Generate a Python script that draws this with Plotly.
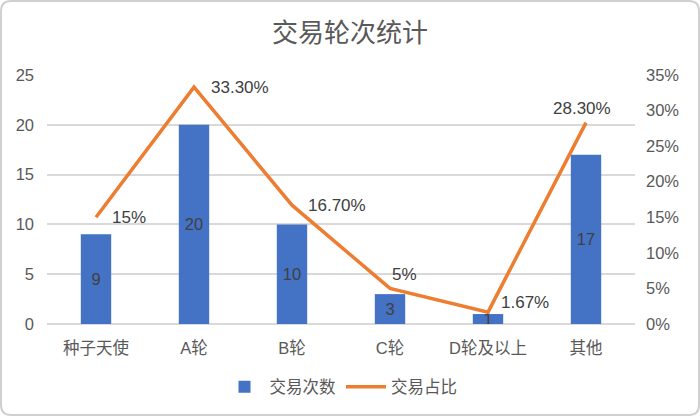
import plotly.graph_objects as go

rounds = ["种子天使", "A轮", "B轮", "C轮", "D轮及以上", "其他"]
counts = [9, 20, 10, 3, 1, 17]
shares = [0.15, 0.333, 0.167, 0.05, 0.0167, 0.283]
share_labels = ["15%", "33.30%", "16.70%", "5%", "1.67%", "28.30%"]

BLUE = "#4472C4"
ORANGE = "#ED7D31"
TXT = "#595959"
FONT = "Liberation Sans, Noto Sans CJK SC, sans-serif"

W, H = 700, 416
L, R, T, B = 47, 65, 75, 92
pw, ph = W - L - R, H - T - B

fig = go.Figure()
fig.add_trace(go.Bar(
    x=rounds, y=counts, name="交易次数",
    marker=dict(color=BLUE, line=dict(width=0)),
    width=0.31,
    text=[str(c) for c in counts],
    textposition="inside", insidetextanchor="middle",
    constraintext="none", textangle=0,
    textfont=dict(color="#404040", size=16.5),
))
fig.add_trace(go.Scatter(
    x=rounds, y=shares, name="交易占比", yaxis="y2",
    mode="lines", line=dict(color=ORANGE, width=3.5),
))

# label offsets for the share line (pixels)
offsets = [(14, 0, "left"), (15, 0, "left"), (14, 0, "left"),
           (0, 14, "left"), (11, 10, "left"), (-4, 14, "center")]
for cat, val, lab, (dx, dy, anc) in zip(rounds, shares, share_labels, offsets):
    fig.add_annotation(
        x=cat, y=val, yref="y2", text=lab, showarrow=False,
        xanchor=anc, yanchor="middle", xshift=dx, yshift=dy,
        font=dict(size=17, color="#404040", family=FONT),
    )

# rounded outer frame in paper units
r = 10
x0, x1 = -(L - 1) / pw, (pw + R - 1) / pw
y0, y1 = -(B - 1) / ph, (ph + T - 1) / ph
rx, ry = r / pw, r / ph
frame = (f"M{x0 + rx},{y0} L{x1 - rx},{y0} Q{x1},{y0} {x1},{y0 + ry} "
         f"L{x1},{y1 - ry} Q{x1},{y1} {x1 - rx},{y1} L{x0 + rx},{y1} "
         f"Q{x0},{y1} {x0},{y1 - ry} L{x0},{y0 + ry} Q{x0},{y0} {x0 + rx},{y0} Z")

fig.update_layout(
    width=W, height=H,
    margin=dict(l=L, r=R, t=T, b=B),
    paper_bgcolor="white", plot_bgcolor="white",
    font=dict(family=FONT, color=TXT, size=16.5),
    title=dict(text="交易轮次统计", x=0.5, xanchor="center", y=0.921, yanchor="middle",
               font=dict(size=26, color=TXT)),
    showlegend=True,
    legend=dict(orientation="h", x=0.5, xanchor="center", y=-0.253, yanchor="middle",
                font=dict(size=16.5, color=TXT), traceorder="normal", itemwidth=40),
    xaxis=dict(showgrid=False, showline=False, ticks="", tickfont=dict(size=16.5, color=TXT),
               ticklabelstandoff=12),
    yaxis=dict(range=[0, 25], dtick=5, showgrid=True, gridcolor="#d9d9d9", gridwidth=1.5,
               zeroline=True, zerolinecolor="#d9d9d9", zerolinewidth=1.5,
               tickfont=dict(size=16.5, color=TXT), ticks="", ticklabelstandoff=12),
    yaxis2=dict(range=[0, 0.35], dtick=0.05, tickformat=".0%", overlaying="y", side="right",
                showgrid=False, zeroline=False, tickfont=dict(size=16.5, color=TXT), ticks="",
                ticklabelstandoff=10),
    shapes=[dict(type="path", xref="paper", yref="paper", path=frame,
                 line=dict(color="#d0d0d0", width=2), layer="below")],
)

fig.write_html("out.html", config={"displayModeBar": False},
               post_script="document.body.style.margin='0';document.body.style.overflow='hidden';")
